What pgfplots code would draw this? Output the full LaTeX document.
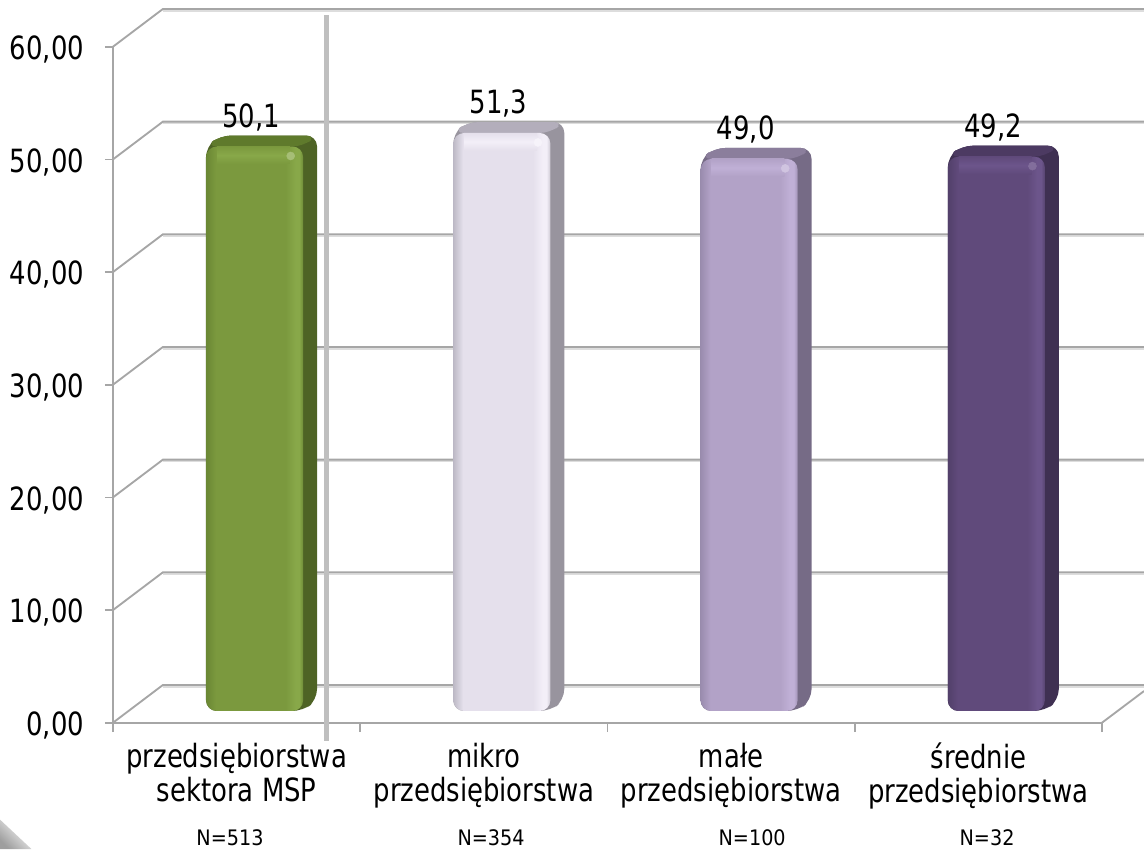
\documentclass[border=0pt]{standalone}
\usepackage{fontspec}
\setmainfont[FakeStretch=0.9]{DejaVu Sans Condensed}
\newfontfamily\nfont{DejaVu Sans Condensed}
\usepackage{pgfplots}
\pgfplotsset{compat=1.18}

% 1 px of the reference = 0.75pt here
\definecolor{wallc}{HTML}{A6A6A6}
\definecolor{wallsh}{HTML}{DDDDDD}

\definecolor{gaEdge}{HTML}{6A8734}\definecolor{gaMain}{HTML}{7B993E}\definecolor{gaHigh}{HTML}{88A849}\definecolor{gaEnd}{HTML}{6F8C38}
\definecolor{gaTop}{HTML}{5F7A2C}\definecolor{gaSide}{HTML}{4E6325}
\definecolor{gbEdge}{HTML}{BDB9C6}\definecolor{gbMain}{HTML}{E5E0EC}\definecolor{gbHigh}{HTML}{F3EFF8}\definecolor{gbEnd}{HTML}{CDC9D3}
\definecolor{gbTop}{HTML}{B3AEBB}\definecolor{gbSide}{HTML}{98949E}
\definecolor{gcEdge}{HTML}{9A8CAE}\definecolor{gcMain}{HTML}{B2A2C7}\definecolor{gcHigh}{HTML}{C0B0D6}\definecolor{gcEnd}{HTML}{A293B6}
\definecolor{gcTop}{HTML}{8B7E9C}\definecolor{gcSide}{HTML}{766B86}
\definecolor{gdEdge}{HTML}{52406A}\definecolor{gdMain}{HTML}{604A7B}\definecolor{gdHigh}{HTML}{6C558B}\definecolor{gdEnd}{HTML}{574470}
\definecolor{gdTop}{HTML}{4C3A62}\definecolor{gdSide}{HTML}{3F3052}

\newcommand{\barshade}[1]{%
  \pgfdeclarehorizontalshading{#1bar}{100bp}{%
    color(0bp)=(#1Edge); color(25bp)=(#1Edge); color(30bp)=(#1Main);
    color(66bp)=(#1Main); color(71bp)=(#1High); color(73bp)=(#1High);
    color(75bp)=(#1End); color(100bp)=(#1End)}}
\barshade{ga}\barshade{gb}\barshade{gc}\barshade{gd}

% #1 front left, #2 front right, #3 back left, #4 back right,
% #5 top of front face, #6 top of back face, #7 colour prefix
\newcommand{\barbody}[7]{%
  \addplot[draw=none, fill=#7Side, rounded corners=8pt] coordinates
    {(#1,1.04) (#1,#5) (#3,#6) (#4,#6) (#4,2.01) (#2,1.04)} --cycle;
  \addplot[draw=none, fill=#7Top, rounded corners=8pt] coordinates
    {(#1,#5) (#3,#6) (#4,#6) (#2,#5)} --cycle;
}
% #1 left, #2 right, #3 top, #4 bottom of the bevel band
\newcommand{\barbevel}[5]{%
  \addplot[draw=none, top color=#5Main, bottom color=#5Main, middle color=#5High, shade] coordinates
    {(#1,#3) (#2,#3) (#2,#4) (#1,#4)} --cycle;
}

\begin{document}
\begin{tikzpicture}
\useasboundingbox (-84.75pt,-94.725pt) rectangle (773.25pt,542.025pt);
\begin{axis}[
    at={(0pt,0pt)}, anchor=south west,
    scale only axis,
    width=741.75pt, height=507pt,
    xmin=-0.5, xmax=3.5,
    ymin=0, ymax=60,
    clip=false,
    axis x line*=bottom, axis y line*=left,
    axis line style={draw=wallc, line width=1.6pt, -},
    ytick={0,10,...,60},
    xtick={0,1,2,3},
    xticklabels={{przedsiębiorstwa\\sektora MSP},{mikro\\przedsiębiorstwa},{małe\\przedsiębiorstwa},{średnie\\przedsiębiorstwa}},
    minor xtick={-0.5,0.5,1.5,2.5,3.5},
    tick align=outside,
    major tick length=6pt,
    minor tick length=7pt,
    major x tick style={draw=none},
    minor x tick style={draw=wallc, line width=1.3pt},
    major y tick style={draw=wallc, line width=1.3pt},
    /pgf/number format/assume math mode=true,
    yticklabel style={font=\fontsize{24}{26}\selectfont, /pgf/number format/fixed, /pgf/number format/fixed zerofill, /pgf/number format/precision=2, /pgf/number format/use comma, inner sep=0pt, xshift=-15.5pt, yshift=-2pt},
    xticklabel style={font=\fontsize{24}{25.5}\selectfont, align=center, inner sep=0pt, yshift=-9pt},
]

% frame shadow in the corner
\addplot[draw=none, shade, top color=white, middle color=white, bottom color=black!38, shading angle=-45] coordinates
  {(-0.957,-8.6) (-0.957,-11.21) (-0.83,-11.21)} --cycle;

% side walls and back wall
\addplot[wallsh, line width=1.5pt, yshift=-1.2pt, unbounded coords=jump] coordinates {
  (-0.298,3.35)(3.67,3.35) (nan,nan)
  (-0.298,13.35)(3.67,13.35) (nan,nan)
  (-0.298,23.35)(3.67,23.35) (nan,nan)
  (-0.298,33.35)(3.67,33.35) (nan,nan)
  (-0.298,43.35)(3.67,43.35) (nan,nan)
  (-0.298,53.35)(3.67,53.35) (nan,nan)
  (-0.298,63.35)(3.67,63.35)
};
\addplot[wallc, line width=1.4pt, unbounded coords=jump] coordinates {
  (-0.5,0)(-0.298,3.35)(3.67,3.35) (nan,nan)
  (-0.5,10)(-0.298,13.35)(3.67,13.35) (nan,nan)
  (-0.5,20)(-0.298,23.35)(3.67,23.35) (nan,nan)
  (-0.5,30)(-0.298,33.35)(3.67,33.35) (nan,nan)
  (-0.5,40)(-0.298,43.35)(3.67,43.35) (nan,nan)
  (-0.5,50)(-0.298,53.35)(3.67,53.35) (nan,nan)
  (-0.5,60)(-0.298,63.35)(3.67,63.35) (nan,nan)
  (3.5,0)(3.67,2.81)
};

% bars
\barbody{-0.1239}{0.2685}{-0.0672}{0.3251}{51.14}{52.11}{ga}
\addplot[ybar, bar shift=0pt, bar width=72.75pt, draw=none, shade, shading=gabar, rounded corners=8pt, xshift=13.5pt, yshift=8.8pt] coordinates {(0,50.1)};
\barbevel{-0.079}{0.2157}{51.14}{49.6}{ga}
\addplot[only marks, mark=*, mark size=3pt, color=gaHigh!75!white] coordinates {(0.2188,50.3)};

\barbody{0.8761}{1.2685}{0.9328}{1.3251}{52.34}{53.31}{gb}
\addplot[ybar, bar shift=0pt, bar width=72.75pt, draw=none, shade, shading=gbbar, rounded corners=8pt, xshift=13.5pt, yshift=8.8pt] coordinates {(1,51.3)};
\barbevel{0.921}{1.2157}{52.34}{50.8}{gb}
\addplot[only marks, mark=*, mark size=3pt, color=gbHigh!75!white] coordinates {(1.2188,51.5)};

\barbody{1.8761}{2.2685}{1.9328}{2.3251}{50.04}{51.01}{gc}
\addplot[ybar, bar shift=0pt, bar width=72.75pt, draw=none, shade, shading=gcbar, rounded corners=8pt, xshift=13.5pt, yshift=8.8pt] coordinates {(2,49.0)};
\barbevel{1.921}{2.2157}{50.04}{48.5}{gc}
\addplot[only marks, mark=*, mark size=3pt, color=gcHigh!75!white] coordinates {(2.2188,49.2)};

\barbody{2.8761}{3.2685}{2.9328}{3.3251}{50.24}{51.21}{gd}
\addplot[ybar, bar shift=0pt, bar width=72.75pt, draw=none, shade, shading=gdbar, rounded corners=8pt, xshift=13.5pt, yshift=8.8pt] coordinates {(3,49.2)};
\barbevel{2.921}{3.2157}{50.24}{48.7}{gd}
\addplot[only marks, mark=*, mark size=3pt, color=gdHigh!85!white] coordinates {(3.2188,49.4)};

% value labels
\addplot[draw=none, xshift=10.9pt, point meta=y, nodes near coords,
    nodes near coords style={anchor=center, yshift=30.7pt, font=\fontsize{24}{26}\selectfont, text=black,
      /pgf/number format/fixed, /pgf/number format/fixed zerofill, /pgf/number format/precision=1, /pgf/number format/use comma, /pgf/number format/assume math mode=true}]
  coordinates {(0,50.1)(1,51.3)(2,49.0)(3,49.2)};

% separator
\addplot[color=black!25, line width=4.4pt] coordinates {(0.3636,-1.6)(0.3636,62.8)};

\node[font=\nfont\fontsize{16}{18}\selectfont] at (axis cs:-0.027,-10.2) {N=513};
\node[font=\nfont\fontsize{16}{18}\selectfont] at (axis cs:1.029,-10.2) {N=354};
\node[font=\nfont\fontsize{16}{18}\selectfont] at (axis cs:2.085,-10.2) {N=100};
\node[font=\nfont\fontsize{16}{18}\selectfont] at (axis cs:3.035,-10.2) {N=32};

\end{axis}
\end{tikzpicture}
\end{document}
